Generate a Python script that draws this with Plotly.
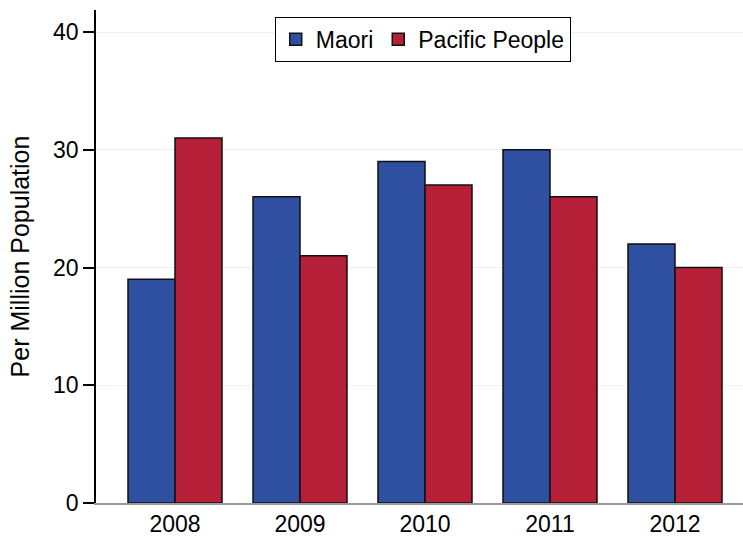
import plotly.graph_objects as go

years = ["2008", "2009", "2010", "2011", "2012"]
maori = [19, 26, 29, 30, 22]
pacific = [31, 21, 27, 26, 20]
y_ticks = [0, 10, 20, 30, 40]

font = "Liberation Sans, Arial, sans-serif"

fig = go.Figure()
fig.add_trace(go.Bar(x=years, y=maori, name="Maori",
                     marker=dict(color="#2f4fa1", line=dict(color="#111111", width=1.5))))
fig.add_trace(go.Bar(x=years, y=pacific, name="Pacific People",
                     marker=dict(color="#b51f38", line=dict(color="#111111", width=1.5))))

fig.update_layout(
    width=743, height=537,
    margin=dict(l=96, r=0, t=10, b=34),
    paper_bgcolor="white", plot_bgcolor="white",
    barmode="group", bargap=0.248, bargroupgap=0,
    font=dict(family=font, size=23, color="#000000"),
    showlegend=True,
    legend=dict(orientation="h", x=0.505, xanchor="center", y=0.986, yanchor="top",
                bordercolor="#000000", borderwidth=1, bgcolor="white",
                font=dict(size=23), itemwidth=30, traceorder="normal"),
    xaxis=dict(range=[-0.632, 4.544], showline=True, linecolor="#9a9a9a", linewidth=1.5,
               ticks="", showgrid=False, tickfont=dict(size=23), fixedrange=True),
    yaxis=dict(range=[0, 41.87], tickvals=y_ticks, showline=True, linecolor="#000000",
               linewidth=1.5, ticks="outside", ticklen=11, tickwidth=1.5, tickcolor="#000000",
               showgrid=True, gridcolor="#edf2f2", gridwidth=1, zeroline=False,
               title=dict(text="Per Million Population", font=dict(size=25), standoff=16),
               tickfont=dict(size=23)),
)

fig.write_html("out.html")
